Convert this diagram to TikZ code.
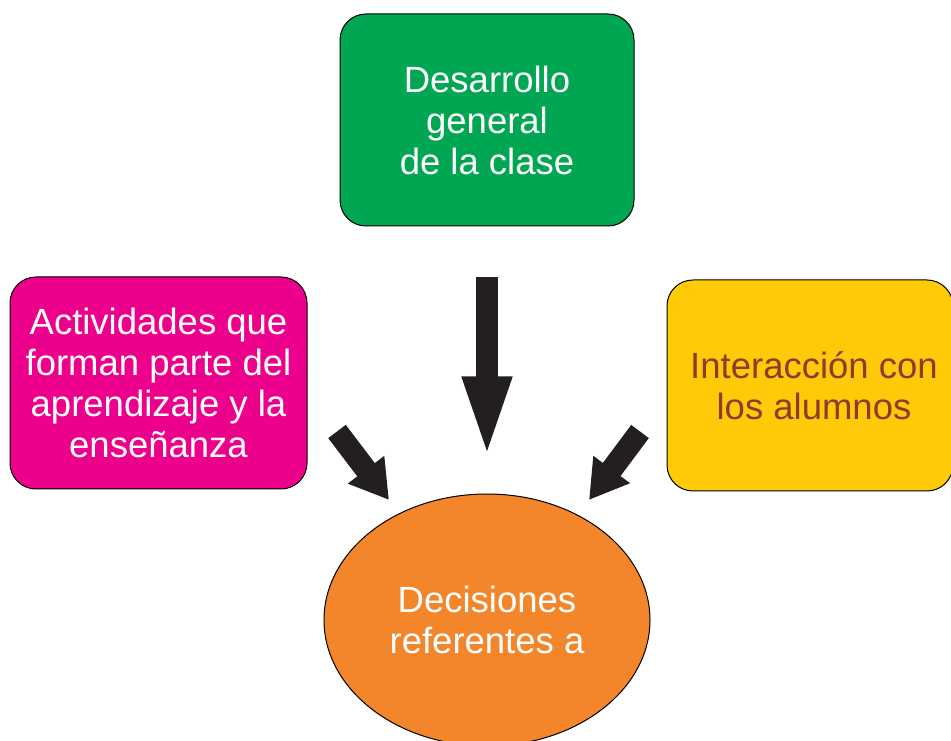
\documentclass[tikz,border=0pt]{standalone}
\usepackage{fontspec}
\setmainfont{Liberation Sans}
\usetikzlibrary{shapes.geometric,arrows.meta}
\definecolor{verde}{HTML}{00A651}
\definecolor{rosa}{HTML}{EC008C}
\definecolor{amarillo}{HTML}{FFCB08}
\definecolor{naranja}{HTML}{F3852A}
\definecolor{marron}{HTML}{8E3A2C}
\definecolor{negro}{HTML}{231F20}
\tikzset{
  caja/.style={draw=black, line width=1pt, rounded corners=26pt, align=center,
    inner sep=0pt, font=\fontsize{36.5}{41}\selectfont},
  flecha/.style={line width=22pt, negro, -{Triangle[length=38pt,width=43pt]}}
}
\begin{document}
\begin{tikzpicture}[x=1pt, y=1pt]
\useasboundingbox (0,0) rectangle (951,740);
\node (desarrollo) [caja, fill=verde, text=white, minimum width=294pt, minimum height=212pt] at (487,620) {Desarrollo\\general\\de la clase};
\node (actividades) [caja, fill=rosa, text=white, minimum width=297pt, minimum height=212pt] at (158.5,357) {Actividades que\\forman parte del\\aprendizaje y la\\enseñanza};
\node (interaccion) [caja, fill=amarillo, text=marron, minimum width=286pt, minimum height=211pt] at (810,354.5) {\hspace*{8pt}Interacción con\\\hspace*{8pt}los alumnos};
\node (decisiones) [ellipse, draw=black, line width=1pt, fill=naranja, text=white, align=center, inner sep=0pt,
  minimum width=326pt, minimum height=252pt, font=\fontsize{36.5}{41}\selectfont] at (487,120) {Decisiones\\referentes a};
\coordinate (actividades-out) at (337,308.5);
\coordinate (decisiones-l) at (389,240);
\coordinate (interaccion-out) at (640,308.5);
\coordinate (decisiones-r) at (589,240);
\draw[flecha, -{Triangle[length=86pt,width=43pt]}, shorten <=51pt, shorten >=31pt] (desarrollo) -- (decisiones);
\draw[flecha] (actividades-out) -- (decisiones-l);
\draw[flecha] (interaccion-out) -- (decisiones-r);
\end{tikzpicture}
\end{document}
